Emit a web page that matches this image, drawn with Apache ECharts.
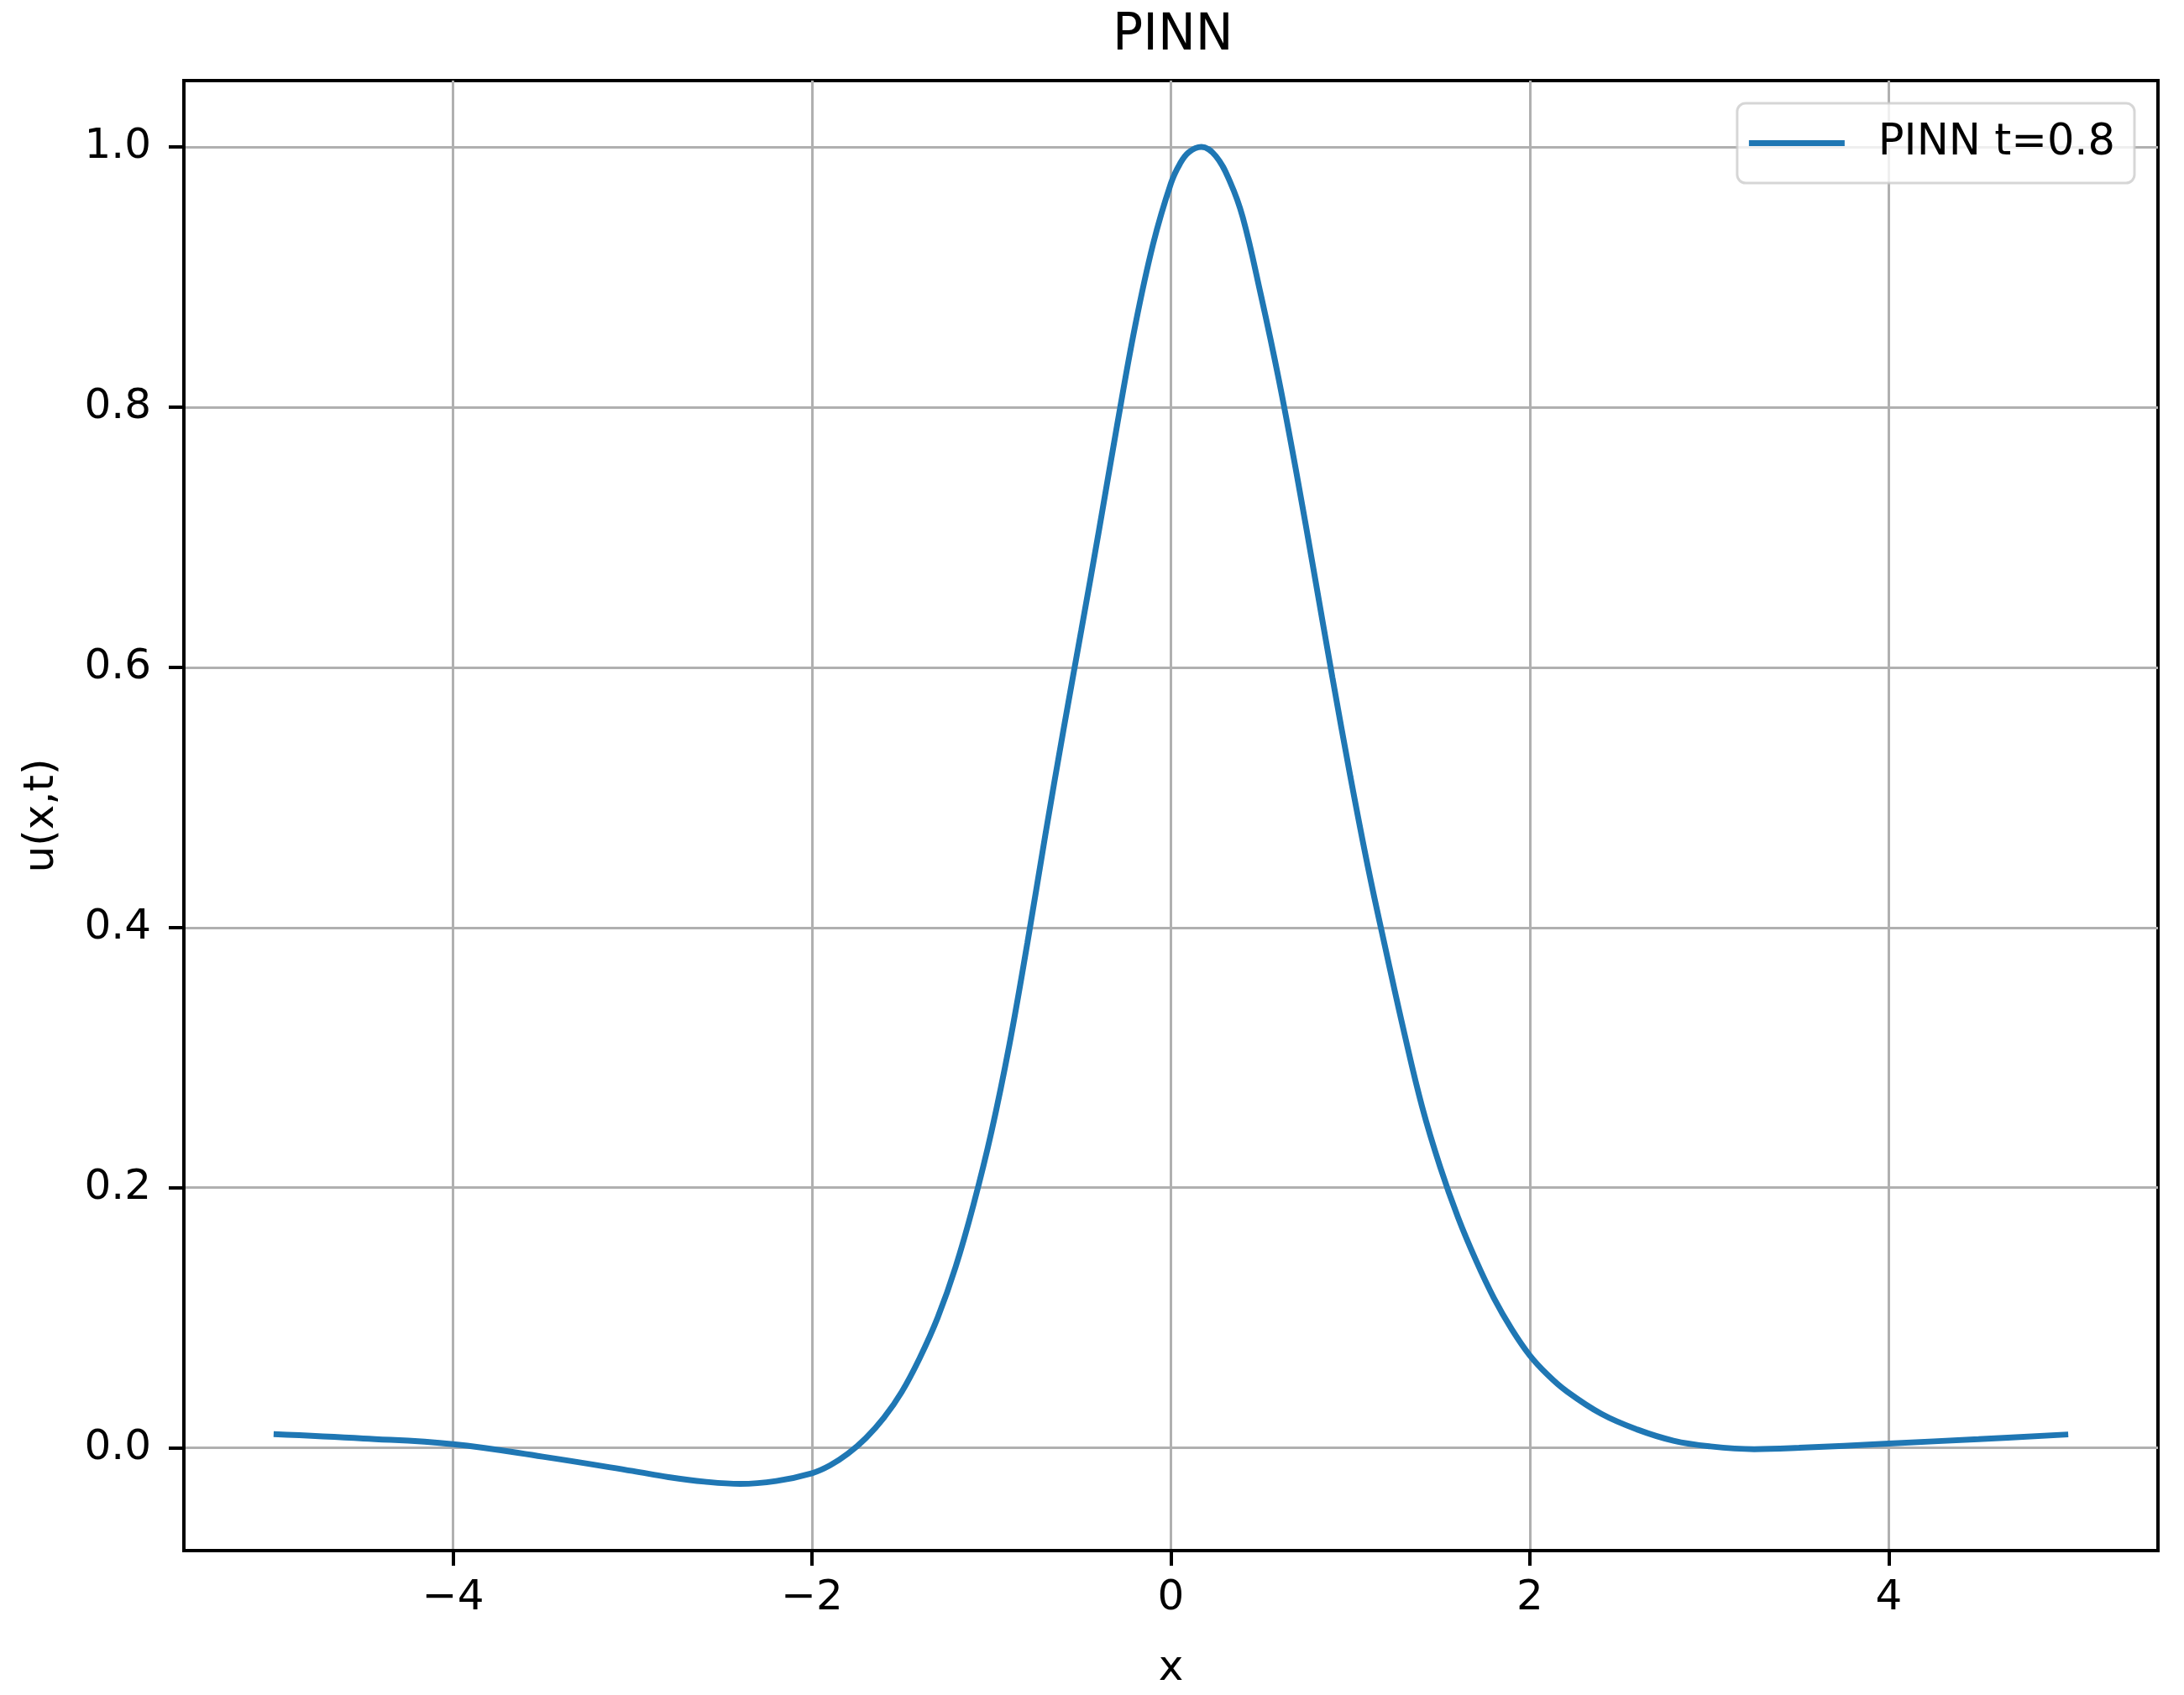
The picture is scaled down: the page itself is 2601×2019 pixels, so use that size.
<!DOCTYPE html>
<html>
<head>
<meta charset="utf-8">
<script src="https://cdn.jsdelivr.net/npm/echarts@6/dist/echarts.min.js"></script>
<style>
  html, body { margin: 0; padding: 0; background: #fff; }
  #main { width: 2601px; height: 2019px; }
</style>
</head>
<body>
<div id="main"></div>
<script>
// values
const xValues = [-5.0, -4.5, -4.0, -3.5, -3.0, -2.8, -2.6, -2.4, -2.2, -2.0, -1.9, -1.8, -1.7, -1.6, -1.5,
  -1.4, -1.3, -1.2, -1.1, -1.0, -0.9, -0.8, -0.7, -0.6, -0.5, -0.4, -0.3, -0.2, -0.1, 0.0, 0.05, 0.1,
  0.17, 0.25, 0.33, 0.4, 0.5, 0.6, 0.7, 0.8, 0.9, 1.0, 1.1, 1.2, 1.3, 1.4, 1.5, 1.6, 1.7, 1.8, 1.9,
  2.0, 2.1, 2.2, 2.4, 2.6, 2.8, 3.0, 3.25, 3.5, 4.0, 4.5, 5.0];
const uValues = [0.0105, 0.0072, 0.0028, -0.0068, -0.0178, -0.0225, -0.026, -0.0277, -0.0255, -0.0195, -0.0135, -0.0045, 0.0075, 0.023, 0.043,
  0.069, 0.100, 0.139, 0.187, 0.243, 0.310, 0.388, 0.471, 0.551, 0.628, 0.706, 0.786, 0.862, 0.925, 0.972, 0.987, 0.996,
  1.0, 0.993, 0.973, 0.946, 0.887, 0.822, 0.749, 0.671, 0.592, 0.516, 0.445, 0.381, 0.319, 0.262, 0.216, 0.177, 0.144, 0.115, 0.091,
  0.071, 0.056, 0.044, 0.026, 0.014, 0.0055, 0.0012, -0.001, 0.0, 0.0033, 0.0067, 0.0103];
const xTicks = [-4, -2, 0, 2, 4];
const yTicks = [0.0, 0.2, 0.4, 0.6, 0.8, 1.0];
const seriesName = 'PINN t=0.8';

const points = xValues.map((x, i) => [x, uValues[i]]);
const font = 'DejaVu Sans';

var myChart = echarts.init(document.getElementById('main'));
var option = {
  animation: false,
  backgroundColor: '#ffffff',
  textStyle: { fontFamily: font, color: '#000' },
  title: {
    text: 'PINN',
    left: 1320,
    top: 8,
    textStyle: { fontFamily: font, fontSize: 60, fontWeight: 'normal', color: '#000' }
  },
  legend: {
    data: [seriesName],
    right: 59,
    top: 123,
    padding: [22, 23, 22, 14],
    backgroundColor: 'rgba(255,255,255,0.8)',
    borderColor: 'rgba(204,204,204,0.8)',
    borderWidth: 3,
    borderRadius: 10,
    icon: 'rect',
    itemWidth: 114,
    itemHeight: 7,
    textStyle: { fontFamily: font, fontSize: 51, color: '#000', padding: [0, 0, 0, 35] }
  },
  grid: {
    left: 219,
    right: 31,
    top: 96,
    bottom: 172,
    show: true,
    borderColor: '#000',
    borderWidth: 4,
    containLabel: false
  },
  xAxis: {
    type: 'value',
    min: -5.5,
    max: 5.5,
    name: 'x',
    nameLocation: 'middle',
    nameGap: 116,
    nameTextStyle: { fontFamily: font, fontSize: 50, color: '#000' },
    axisLine: { show: true, onZero: false, lineStyle: { color: '#000', width: 4 } },
    axisTick: { show: true, length: 18, customValues: xTicks, lineStyle: { color: '#000', width: 4 } },
    axisLabel: {
      customValues: xTicks, margin: 32, fontFamily: font, fontSize: 50, color: '#000',
      formatter: v => (v < 0 ? '\u2212' + Math.abs(v) : String(v))
    },
    splitLine: { show: true, lineStyle: { color: '#b0b0b0', width: 3 } }
  },
  yAxis: {
    type: 'value',
    min: -0.079,
    max: 1.051,
    name: 'u(x,t)',
    nameLocation: 'middle',
    nameGap: 144,
    nameTextStyle: { fontFamily: font, fontSize: 50, color: '#000' },
    axisLine: { show: true, onZero: false, lineStyle: { color: '#000', width: 4 } },
    axisTick: { show: true, length: 18, customValues: yTicks, lineStyle: { color: '#000', width: 4 } },
    axisLabel: {
      customValues: yTicks, margin: 39, fontFamily: font, fontSize: 50, color: '#000',
      formatter: v => v.toFixed(1)
    },
    splitLine: { show: true, lineStyle: { color: '#b0b0b0', width: 3 } }
  },
  series: [
    {
      name: seriesName,
      type: 'line',
      data: points,
      showSymbol: false,
      smooth: 0.4,
      itemStyle: { color: '#1f77b4' },
      lineStyle: { color: '#1f77b4', width: 7 }
    }
  ]
};
myChart.setOption(option);
</script>
</body>
</html>
